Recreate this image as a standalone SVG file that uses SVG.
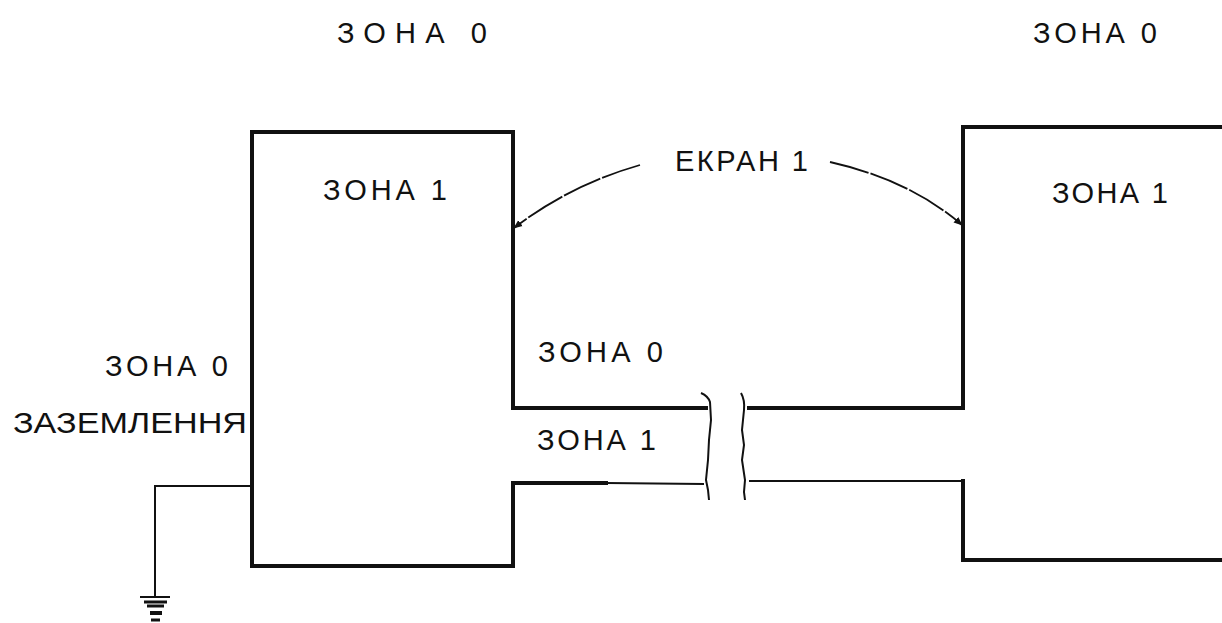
<svg xmlns="http://www.w3.org/2000/svg" width="1222" height="623" viewBox="0 0 1222 623">
<style>
.t{font-family:"Liberation Sans",Arial,sans-serif;font-size:29px;fill:#111}
.w{fill:none;stroke:#111;stroke-width:4;stroke-linecap:square}
.th{fill:none;stroke:#111;stroke-width:2}
.ar{fill:none;stroke:#111;stroke-width:1.8;stroke-dasharray:40 2}
</style>
<defs>
<marker id="ah" viewBox="0 0 10 10" refX="9" refY="5" markerWidth="9" markerHeight="9" orient="auto" markerUnits="userSpaceOnUse">
<path d="M0,1 L10,5 L0,9 z" fill="#111"/>
</marker>
</defs>
<rect width="1222" height="623" fill="#fff"/>
<g id="labels">
<text class="t" x="337" y="43" textLength="150" lengthAdjust="spacing">ЗОНА 0</text>
<text class="t" x="1033" y="43" textLength="124" lengthAdjust="spacing">ЗОНА 0</text>
<text class="t" x="105" y="376" textLength="123" lengthAdjust="spacing">ЗОНА 0</text>
<text class="t" x="13" y="433" textLength="234" lengthAdjust="spacingAndGlyphs">ЗАЗЕМЛЕННЯ</text>
<text class="t" x="538" y="362" textLength="125" lengthAdjust="spacing">ЗОНА 0</text>
<text class="t" x="537" y="450" textLength="119" lengthAdjust="spacing">ЗОНА 1</text>
</g>
<g id="left-box">
<path class="w" d="M513,408 L513,132 L252,132 L252,566 L513,566 L513,483"/>
<text class="t" x="323" y="200" textLength="124" lengthAdjust="spacing">ЗОНА 1</text>
</g>
<g id="right-box">
<path class="w" d="M963,408 L963,127 L1222,127"/>
<path class="w" d="M963,481 L963,560 L1222,560"/>
<text class="t" x="1052" y="203" textLength="116" lengthAdjust="spacing">ЗОНА 1</text>
</g>
<g id="pipe">
<path class="w" d="M513,408 L706,408"/>
<path class="w" d="M749,408 L963,408"/>
<path class="w" d="M513,483 L606,483"/>
<path class="th" d="M606,483 L704,484"/>
<path class="th" d="M749,481 L963,481"/>
<path class="th" d="M701,393 Q708,396 710,402 L711,420 L709,440 L708,460 L706,480 L708,490 L709,500"/>
<path class="th" d="M741,393 Q745,400 744,410 L742,430 L744,445 L742,460 L745,480 L744,492 L745,500"/>
</g>
<g id="ground">
<path class="th" d="M252,486 L155,486 L155,597"/>
<path d="M140,597 H170" stroke="#111" stroke-width="2"/>
<path d="M144,602 H167" stroke="#111" stroke-width="3"/>
<path d="M147,606 H164" stroke="#111" stroke-width="3"/>
<path d="M150,613 H162" stroke="#111" stroke-width="4"/>
<path d="M151,620 H160" stroke="#111" stroke-width="3"/>
</g>
<g id="screen">
<text class="t" x="675" y="171" textLength="133" lengthAdjust="spacing">ЕКРАН 1</text>
</g>
<g id="connectors">
<path class="ar" d="M640,165 Q570,185 514,228" marker-end="url(#ah)"/>
<path class="ar" d="M830,162 Q910,180 962,225" marker-end="url(#ah)"/>
</g>
</svg>
